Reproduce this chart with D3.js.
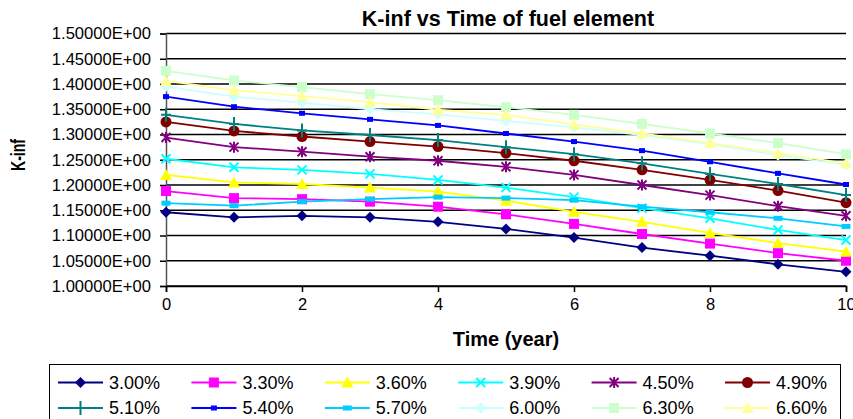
<!DOCTYPE html>
<html>
<head>
<meta charset="utf-8">
<script src="https://cdn.jsdelivr.net/npm/d3@7"></script>
<style>
  body { margin: 0; background: #fff; }
  text { font-family: "Liberation Sans", Arial, sans-serif; }
</style>
</head>
<body>
<script>
// burnup time, years
const years = [0, 1, 2, 3, 4, 5, 6, 7, 8, 9, 10];

// enrichment labels (legend order)
const labels = ["3.00%", "3.30%", "3.60%", "3.90%", "4.50%", "4.90%",
                "5.10%", "5.40%", "5.70%", "6.00%", "6.30%", "6.60%"];

// k-inf
const k300 = [1.146, 1.136, 1.139, 1.136, 1.127, 1.113, 1.096, 1.076, 1.060, 1.043, 1.028];
const k330 = [1.188, 1.174, 1.172, 1.167, 1.157, 1.142, 1.123, 1.103, 1.084, 1.065, 1.050];
const k360 = [1.220, 1.205, 1.202, 1.195, 1.187, 1.169, 1.147, 1.127, 1.105, 1.085, 1.068];
const k390 = [1.252, 1.235, 1.230, 1.222, 1.210, 1.195, 1.176, 1.154, 1.134, 1.111, 1.091];
const k450 = [1.294, 1.275, 1.266, 1.256, 1.248, 1.236, 1.220, 1.200, 1.180, 1.158, 1.139];
const k490 = [1.325, 1.307, 1.296, 1.286, 1.276, 1.263, 1.248, 1.230, 1.210, 1.189, 1.165];
const k510 = [1.339, 1.321, 1.308, 1.299, 1.289, 1.275, 1.261, 1.243, 1.222, 1.202, 1.180];
const k540 = [1.375, 1.355, 1.342, 1.330, 1.318, 1.302, 1.286, 1.268, 1.246, 1.223, 1.201];
const k570 = [1.164, 1.159, 1.167, 1.172, 1.176, 1.174, 1.170, 1.157, 1.146, 1.134, 1.118];
const k600 = [1.395, 1.375, 1.363, 1.350, 1.340, 1.327, 1.314, 1.299, 1.281, 1.259, 1.240];
const k630 = [1.426, 1.407, 1.394, 1.380, 1.368, 1.354, 1.339, 1.321, 1.302, 1.283, 1.261];
const k660 = [1.406, 1.388, 1.376, 1.364, 1.349, 1.339, 1.320, 1.302, 1.283, 1.263, 1.243];

const yTicks = [1.00, 1.05, 1.10, 1.15, 1.20, 1.25, 1.30, 1.35, 1.40, 1.45, 1.50];
const xTicks = [0, 2, 4, 6, 8, 10];

const allSeries = [k300, k330, k360, k390, k450, k490, k510, k540, k570, k600, k630, k660];
const colors = ["#000080", "#FF00FF", "#FFFF00", "#00FFFF", "#800080", "#800000",
                "#008080", "#0000FF", "#00CCFF", "#CCFFFF", "#CCFFCC", "#FFFF99"];
const shapes = ["diamond", "square", "triangle", "x", "star", "circle",
                "plus", "smallsq", "dash", "diamond", "square", "triangle"];

const width = 853, height = 419;
const plot = { left: 166, right: 846, top: 33.5, bottom: 286 };

const svg = d3.select("body").append("svg")
    .attr("width", width)
    .attr("height", height);

const x = d3.scaleLinear().domain([0, 10]).range([plot.left, plot.right]);
const y = d3.scaleLinear().domain([1.0, 1.5]).range([plot.bottom, plot.top]);

// horizontal gridlines
svg.append("g")
    .selectAll("line")
    .data(yTicks)
    .enter()
    .append("line")
    .attr("x1", plot.left)
    .attr("x2", plot.right)
    .attr("y1", d => y(d))
    .attr("y2", d => y(d))
    .attr("stroke", "#000")
    .attr("stroke-width", 1.5);

// y axis
const yAxis = svg.append("g")
    .attr("transform", "translate(" + plot.left + ",0)")
    .call(d3.axisLeft(y).tickValues(yTicks).tickSize(6).tickPadding(9)
        .tickFormat(d => d3.format(".5f")(d) + "E+00"));
yAxis.select(".domain").attr("stroke", "#555").attr("stroke-width", 1.5);
yAxis.selectAll(".tick line").attr("stroke", "#000").attr("stroke-width", 1.5);
yAxis.selectAll("text")
    .style("font-size", "16.6px")
    .attr("fill", "#000");

// x axis
const xAxis = svg.append("g")
    .attr("transform", "translate(0," + plot.bottom + ")")
    .call(d3.axisBottom(x).tickValues(xTicks).tickSize(6).tickPadding(6));
xAxis.select(".domain").attr("stroke", "#000").attr("stroke-width", 1.5);
xAxis.selectAll(".tick line").attr("stroke", "#000").attr("stroke-width", 1.5);
xAxis.selectAll("text")
    .style("font-size", "16.5px")
    .attr("fill", "#000");

// marker builder
function drawMarker(g, shape, color) {
    if (shape === "diamond") {
        g.append("path").attr("d", "M0,-5.5L5.5,0L0,5.5L-5.5,0Z").attr("fill", color);
    } else if (shape === "square") {
        g.append("rect").attr("x", -5).attr("y", -5).attr("width", 10).attr("height", 10).attr("fill", color);
    } else if (shape === "triangle") {
        g.append("path").attr("d", "M0,-6L6,5L-6,5Z").attr("fill", color);
    } else if (shape === "circle") {
        g.append("circle").attr("r", 5.5).attr("fill", color);
    } else if (shape === "smallsq") {
        g.append("rect").attr("x", -3).attr("y", -2.5).attr("width", 6).attr("height", 5).attr("fill", color);
    } else if (shape === "dash") {
        g.append("rect").attr("x", -4.5).attr("y", -2.5).attr("width", 9).attr("height", 5).attr("fill", color);
    } else {
        let d = "";
        if (shape === "x" || shape === "star") d += "M-4.5,-4.5L4.5,4.5M-4.5,4.5L4.5,-4.5";
        if (shape === "star") d += "M0,-5.5L0,5.5";
        if (shape === "plus") d += "M0,-7L0,7M-5,0L5,0";
        g.append("path").attr("d", d).attr("stroke", color).attr("stroke-width", 2).attr("fill", "none");
    }
}

const line = d3.line()
    .x((d, i) => x(years[i]))
    .y(d => y(d));

// series lines with markers
allSeries.forEach((vals, s) => {
    const g = svg.append("g").attr("class", "series");
    g.append("path")
        .attr("d", line(vals))
        .attr("fill", "none")
        .attr("stroke", colors[s])
        .attr("stroke-width", 1.8);
    g.selectAll("g.pt")
        .data(vals)
        .enter()
        .append("g")
        .attr("class", "pt")
        .attr("transform", (d, i) => "translate(" + x(years[i]) + "," + y(d) + ")")
        .each(function () { drawMarker(d3.select(this), shapes[s], colors[s]); });
});

// titles
svg.append("text")
    .attr("x", 508)
    .attr("y", 25.5)
    .attr("text-anchor", "middle")
    .style("font-size", "21.5px")
    .style("font-weight", "bold")
    .text("K-inf vs Time of fuel element");

svg.append("text")
    .attr("x", 506)
    .attr("y", 346)
    .attr("text-anchor", "middle")
    .style("font-size", "20px")
    .style("font-weight", "bold")
    .text("Time (year)");

svg.append("text")
    .attr("transform", "translate(25,155) rotate(-90)")
    .attr("text-anchor", "middle")
    .attr("textLength", 32)
    .attr("lengthAdjust", "spacingAndGlyphs")
    .style("font-size", "20px")
    .style("font-weight", "bold")
    .text("K-inf");

// legend
svg.append("rect")
    .attr("x", 49.5)
    .attr("y", 364.5)
    .attr("width", 791)
    .attr("height", 70)
    .attr("fill", "#fff")
    .attr("stroke", "#000")
    .attr("stroke-width", 1);

const legendItem = svg.selectAll("g.legend")
    .data(labels)
    .enter()
    .append("g")
    .attr("class", "legend")
    .attr("transform", (d, i) => "translate(" + (58 + (i % 6) * 133.4) + "," + (382.5 + Math.floor(i / 6) * 25.5) + ")");

legendItem.append("line")
    .attr("x1", 0)
    .attr("x2", 45)
    .attr("stroke", (d, i) => colors[i])
    .attr("stroke-width", 2);

legendItem.append("g")
    .attr("transform", "translate(22.5,0)")
    .each(function (d, i) { drawMarker(d3.select(this), shapes[i], colors[i]); });

legendItem.append("text")
    .attr("x", 51)
    .attr("dy", "0.35em")
    .style("font-size", "18px")
    .text(d => d);
</script>
</body>
</html>
